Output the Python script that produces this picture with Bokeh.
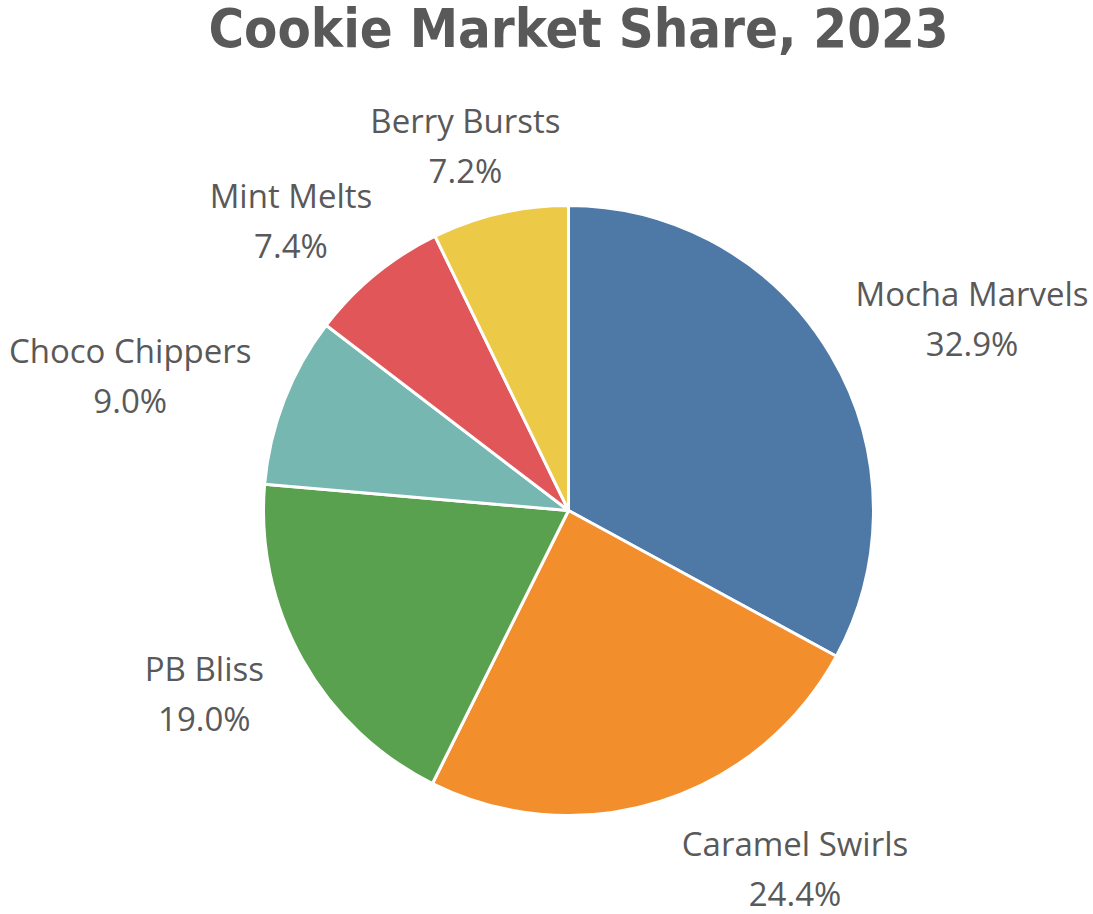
import math
import numpy as np
from bokeh.plotting import figure
from bokeh.models import Range1d, ColumnDataSource
from bokeh.core.properties import value
from bokeh.embed import file_html
from bokeh.resources import INLINE

# ---- data ----
categories = ["Mocha Marvels", "Caramel Swirls", "PB Bliss", "Choco Chippers", "Mint Melts", "Berry Bursts"]
shares = [32.9, 24.4, 19.0, 9.0, 7.4, 7.2]
colors = ["#4e79a7", "#f28e2b", "#59a14f", "#76b7b2", "#e15759", "#edc948"]
title_text = "Cookie Market Share, 2023"

# ---- layout (pixel-like data space) ----
W, H = 1093, 914
CX, CY = 568, 404          # pie centre
R = 305                    # pie radius
LABEL_PAD = 30
LABEL_FS = 33
TEXT_COLOR = "#595959"

p = figure(width=W, height=H, output_backend="svg", toolbar_location=None,
           x_range=Range1d(0, W), y_range=Range1d(0, H), min_border=0)
p.axis.visible = False
p.grid.visible = False
p.outline_line_color = None
p.background_fill_color = "white"
p.border_fill_color = "white"

total = sum(shares)
fr = np.array(shares) / total
ends = math.pi / 2 - 2 * math.pi * np.cumsum(fr)
starts = np.concatenate([[math.pi / 2], ends[:-1]])

src = ColumnDataSource(dict(start=starts, end=ends, color=colors, cat=categories))
p.wedge(x=CX, y=CY, radius=R, start_angle="end", end_angle="start", direction="anticlock",
        fill_color="color", line_color="white", line_width=3, source=src)

# labels
nx, ny, px, py, pct = [], [], [], [], []
for s, e, cat, v in zip(starts, ends, categories, shares):
    mid = (s + e) / 2
    c, sn = math.cos(mid), math.sin(mid)
    ax = CX + (R + LABEL_PAD) * c
    ay = CY + (R + LABEL_PAD) * sn
    hw = len(cat) * LABEL_FS * 0.545 / 2
    hh = 40
    if sn < 0 and abs(c) < 0.5:
        fx = math.copysign(1.0, c)
    else:
        fx = max(-1.0, min(1.0, c * 1.15))
    lx = ax + hw * fx
    ly = ay + hh * sn
    nx.append(lx); ny.append(ly + 25)
    px.append(lx); py.append(ly - 25)
    pct.append(f"{v:.1f}%")

p.text(x=nx, y=ny, text=categories, text_align="center", text_baseline="middle",
       text_font=value("Open Sans"), text_font_size=f"{LABEL_FS}px", text_color=TEXT_COLOR)
p.text(x=px, y=py, text=pct, text_align="center", text_baseline="middle",
       text_font=value("Open Sans"), text_font_size=f"{LABEL_FS}px", text_color=TEXT_COLOR)

# title
p.text(x=[578], y=[H - 28], text=[title_text], text_align="center", text_baseline="alphabetic",
       text_font=value("DejaVu Sans Condensed"), text_font_style="bold",
       text_font_size="54px", text_color=TEXT_COLOR)

open("out.html", "w").write(file_html(p, INLINE))
